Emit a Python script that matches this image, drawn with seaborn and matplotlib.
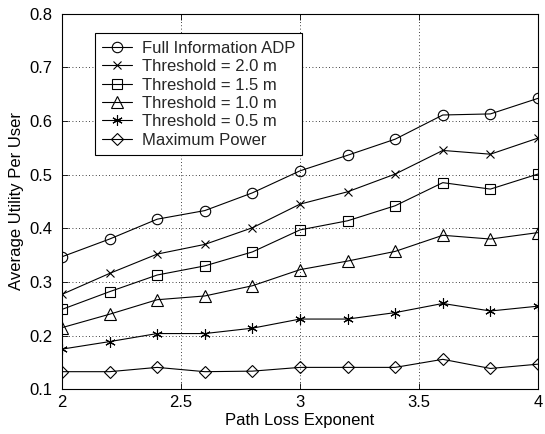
import matplotlib
matplotlib.use("Agg")
import matplotlib.pyplot as plt
import seaborn as sns
import numpy as np
import pandas as pd

# Path loss exponent values
path_loss = [2.0, 2.2, 2.4, 2.6, 2.8, 3.0, 3.2, 3.4, 3.6, 3.8, 4.0]

# Average utility per user for each scheme
full_info_adp = [0.347, 0.380, 0.417, 0.433, 0.466, 0.507, 0.536, 0.566, 0.611, 0.613, 0.642]
thr_2_0 = [0.277, 0.316, 0.352, 0.370, 0.401, 0.445, 0.468, 0.501, 0.545, 0.538, 0.568]
thr_1_5 = [0.249, 0.282, 0.313, 0.330, 0.356, 0.397, 0.414, 0.442, 0.485, 0.473, 0.501]
thr_1_0 = [0.215, 0.240, 0.267, 0.274, 0.293, 0.323, 0.339, 0.357, 0.387, 0.380, 0.392]
thr_0_5 = [0.175, 0.189, 0.204, 0.204, 0.214, 0.231, 0.231, 0.243, 0.260, 0.246, 0.255]
max_power = [0.133, 0.133, 0.141, 0.133, 0.134, 0.141, 0.141, 0.141, 0.156, 0.139, 0.147]

series_labels = ["Full Information ADP", "Threshold = 2.0 m", "Threshold = 1.5 m",
                 "Threshold = 1.0 m", "Threshold = 0.5 m", "Maximum Power"]
series_values = [full_info_adp, thr_2_0, thr_1_5, thr_1_0, thr_0_5, max_power]

x_ticks = [2, 2.5, 3, 3.5, 4]
x_tick_labels = ["2", "2.5", "3", "3.5", "4"]
y_ticks = [0.1, 0.2, 0.3, 0.4, 0.5, 0.6, 0.7, 0.8]
y_tick_labels = ["0.1", "0.2", "0.3", "0.4", "0.5", "0.6", "0.7", "0.8"]

sns.set_theme(style="white")
plt.rcParams["font.family"] = ["Liberation Sans", "DejaVu Sans"]

markers = ["o", "x", "s", "^", (6, 2, 0), "D"]
sizes = [7.5, 6.0, 6.5, 8.5, 7.5, 6.5]
FS = 12

fig = plt.figure(figsize=(5.45, 4.34), dpi=100)
ax = fig.add_axes([62 / 545, 1 - 389.4 / 434, 476 / 545, 375.9 / 434])

for label, vals, mk, ms in zip(series_labels, series_values, markers, sizes):
    df = pd.DataFrame({"x": path_loss, "y": vals})
    sns.lineplot(data=df, x="x", y="y", ax=ax, color="black", linewidth=0.8,
                 marker=mk, markersize=ms, markerfacecolor="none",
                 markeredgecolor="black", markeredgewidth=0.8, label=label)

ax.set_xlim(2, 4)
ax.set_ylim(0.1, 0.8)
ax.set_xticks(x_ticks)
ax.set_xticklabels(x_tick_labels)
ax.set_yticks(y_ticks)
ax.set_yticklabels(y_tick_labels)

ax.grid(True, color="black", linestyle=(0, (1, 3)), linewidth=0.6)
for spine in ax.spines.values():
    spine.set_color("black")
    spine.set_linewidth(0.8)

ax.tick_params(axis="both", direction="in", length=4, width=0.6, colors="black",
               labelsize=FS, top=True, right=True, bottom=True, left=True)
ax.tick_params(axis="x", pad=4)
ax.tick_params(axis="y", pad=7)

ax.set_xlabel("Path Loss Exponent", fontsize=FS, color="black", labelpad=2)
ax.set_ylabel("Average Utility Per User", fontsize=FS, color="black", labelpad=4)

leg = ax.legend(loc="upper left", bbox_to_anchor=(0.069, 0.947), fontsize=FS,
                frameon=True, fancybox=False, edgecolor="black", framealpha=1,
                labelspacing=0.2, handlelength=1.75, handletextpad=0.6,
                borderpad=0.45, borderaxespad=0)
leg.get_frame().set_linewidth(0.8)

fig.savefig("out.png", dpi=100)
